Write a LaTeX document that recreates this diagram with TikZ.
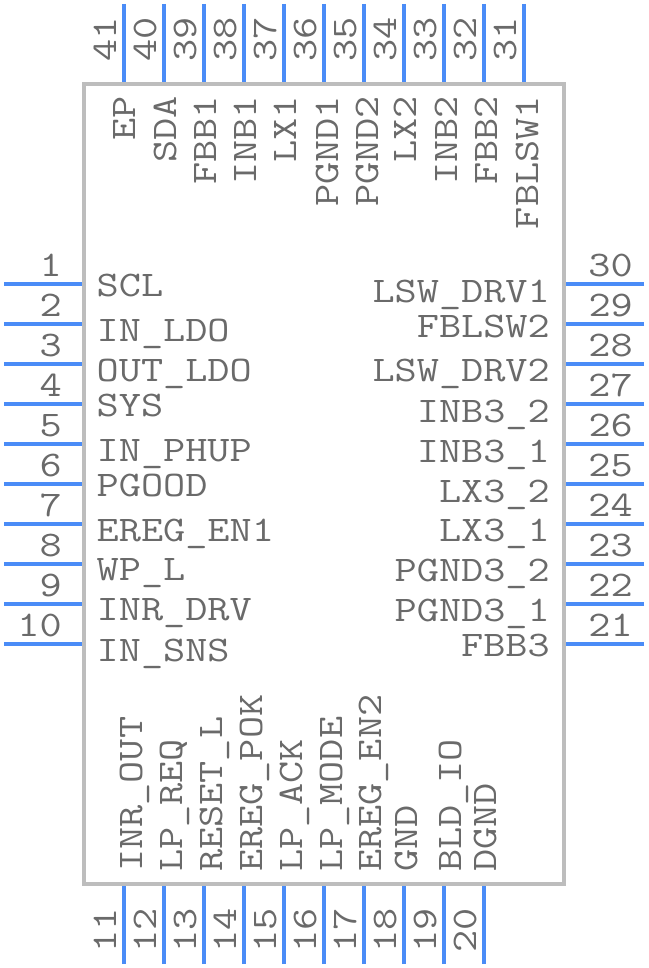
\documentclass[tikz,border=0pt]{standalone}
\usepackage{fontspec}
\setmonofont[FakeStretch=1.195]{Latin Modern Mono}
\definecolor{pinblue}{HTML}{4A8CF7}
\definecolor{bodygray}{HTML}{BDBDBD}
\definecolor{textgray}{HTML}{6A6A6A}
\tikzset{body/.style={draw=bodygray,line width=4.4pt,minimum width=480pt,minimum height=800pt,inner sep=0pt},
         pin/.style={draw=pinblue,line width=4.4pt},
         chiptext/.style={text=textgray,inner sep=0pt,font=\ttfamily\fontsize{36}{36}\selectfont},
         lefttext/.style={chiptext,anchor=base west},
         righttext/.style={chiptext,anchor=base east},
         uptext/.style={chiptext,anchor=base west,rotate=90},
         toptext/.style={chiptext,anchor=base east,rotate=90}
}
\begin{document}
\begin{tikzpicture}[x=1pt,y=-1pt]

\useasboundingbox (0,0) rectangle (648,968);
\node[body] (chip) at (324,484) {};

\coordinate (p1) at (4,284);
\coordinate (p2) at (4,324);
\coordinate (p3) at (4,364);
\coordinate (p4) at (4,404);
\coordinate (p5) at (4,444);
\coordinate (p6) at (4,484);
\coordinate (p7) at (4,524);
\coordinate (p8) at (4,564);
\coordinate (p9) at (4,604);
\coordinate (p10) at (4,644);
\coordinate (p11) at (124,964);
\coordinate (p12) at (164,964);
\coordinate (p13) at (204,964);
\coordinate (p14) at (244,964);
\coordinate (p15) at (284,964);
\coordinate (p16) at (324,964);
\coordinate (p17) at (364,964);
\coordinate (p18) at (404,964);
\coordinate (p19) at (444,964);
\coordinate (p20) at (484,964);
\coordinate (p21) at (644,644);
\coordinate (p22) at (644,604);
\coordinate (p23) at (644,564);
\coordinate (p24) at (644,524);
\coordinate (p25) at (644,484);
\coordinate (p26) at (644,444);
\coordinate (p27) at (644,404);
\coordinate (p28) at (644,364);
\coordinate (p29) at (644,324);
\coordinate (p30) at (644,284);
\coordinate (p31) at (524,4);
\coordinate (p32) at (484,4);
\coordinate (p33) at (444,4);
\coordinate (p34) at (404,4);
\coordinate (p35) at (364,4);
\coordinate (p36) at (324,4);
\coordinate (p37) at (284,4);
\coordinate (p38) at (244,4);
\coordinate (p39) at (204,4);
\coordinate (p40) at (164,4);
\coordinate (p41) at (124,4);

\draw[pin] (p1)--(p1-|chip.west);
\draw[pin] (p2)--(p2-|chip.west);
\draw[pin] (p3)--(p3-|chip.west);
\draw[pin] (p4)--(p4-|chip.west);
\draw[pin] (p5)--(p5-|chip.west);
\draw[pin] (p6)--(p6-|chip.west);
\draw[pin] (p7)--(p7-|chip.west);
\draw[pin] (p8)--(p8-|chip.west);
\draw[pin] (p9)--(p9-|chip.west);
\draw[pin] (p10)--(p10-|chip.west);
\draw[pin] (p11)--(p11|-chip.south);
\draw[pin] (p12)--(p12|-chip.south);
\draw[pin] (p13)--(p13|-chip.south);
\draw[pin] (p14)--(p14|-chip.south);
\draw[pin] (p15)--(p15|-chip.south);
\draw[pin] (p16)--(p16|-chip.south);
\draw[pin] (p17)--(p17|-chip.south);
\draw[pin] (p18)--(p18|-chip.south);
\draw[pin] (p19)--(p19|-chip.south);
\draw[pin] (p20)--(p20|-chip.south);
\draw[pin] (p21)--(p21-|chip.east);
\draw[pin] (p22)--(p22-|chip.east);
\draw[pin] (p23)--(p23-|chip.east);
\draw[pin] (p24)--(p24-|chip.east);
\draw[pin] (p25)--(p25-|chip.east);
\draw[pin] (p26)--(p26-|chip.east);
\draw[pin] (p27)--(p27-|chip.east);
\draw[pin] (p28)--(p28-|chip.east);
\draw[pin] (p29)--(p29-|chip.east);
\draw[pin] (p30)--(p30-|chip.east);
\draw[pin] (p31)--(p31|-chip.north);
\draw[pin] (p32)--(p32|-chip.north);
\draw[pin] (p33)--(p33|-chip.north);
\draw[pin] (p34)--(p34|-chip.north);
\draw[pin] (p35)--(p35|-chip.north);
\draw[pin] (p36)--(p36|-chip.north);
\draw[pin] (p37)--(p37|-chip.north);
\draw[pin] (p38)--(p38|-chip.north);
\draw[pin] (p39)--(p39|-chip.north);
\draw[pin] (p40)--(p40|-chip.north);
\draw[pin] (p41)--(p41|-chip.north);

\node[righttext] (num1) at (62,276) {1};
\node[righttext] (num2) at (62,316) {2};
\node[righttext] (num3) at (62,356) {3};
\node[righttext] (num4) at (62,396) {4};
\node[righttext] (num5) at (62,436) {5};
\node[righttext] (num6) at (62,476) {6};
\node[righttext] (num7) at (62,516) {7};
\node[righttext] (num8) at (62,556) {8};
\node[righttext] (num9) at (62,596) {9};
\node[righttext] (num10) at (62,636) {10};
\node[uptext] (num11) at (116,953) {11};
\node[uptext] (num12) at (156,953) {12};
\node[uptext] (num13) at (196,953) {13};
\node[uptext] (num14) at (236,953) {14};
\node[uptext] (num15) at (276,953) {15};
\node[uptext] (num16) at (316,953) {16};
\node[uptext] (num17) at (356,953) {17};
\node[uptext] (num18) at (396,953) {18};
\node[uptext] (num19) at (436,953) {19};
\node[uptext] (num20) at (476,953) {20};
\node[righttext] (num21) at (633,636) {21};
\node[righttext] (num22) at (633,596) {22};
\node[righttext] (num23) at (633,556) {23};
\node[righttext] (num24) at (633,516) {24};
\node[righttext] (num25) at (633,476) {25};
\node[righttext] (num26) at (633,436) {26};
\node[righttext] (num27) at (633,396) {27};
\node[righttext] (num28) at (633,356) {28};
\node[righttext] (num29) at (633,316) {29};
\node[righttext] (num30) at (633,276) {30};
\node[uptext] (num31) at (516,62) {31};
\node[uptext] (num32) at (476,62) {32};
\node[uptext] (num33) at (436,62) {33};
\node[uptext] (num34) at (396,62) {34};
\node[uptext] (num35) at (356,62) {35};
\node[uptext] (num36) at (316,62) {36};
\node[uptext] (num37) at (276,62) {37};
\node[uptext] (num38) at (236,62) {38};
\node[uptext] (num39) at (196,62) {39};
\node[uptext] (num40) at (156,62) {40};
\node[uptext] (num41) at (116,62) {41};

\node[lefttext] (scl) at (96.5,296) {SCL};
\node[lefttext] (inldo) at (96.5,341) {IN\_LDO};
\node[lefttext] (outldo) at (96.5,381) {OUT\_LDO};
\node[lefttext] (sys) at (96.5,416) {SYS};
\node[lefttext] (inphup) at (96.5,461) {IN\_PHUP};
\node[lefttext] (pgood) at (96.5,496) {PGOOD};
\node[lefttext] (eregen1) at (96.5,541) {EREG\_EN1};
\node[lefttext] (wpl) at (96.5,580) {WP\_L};
\node[lefttext] (inrdrv) at (96.5,620) {INR\_DRV};
\node[lefttext] (insns) at (96.5,661) {IN\_SNS};

\node[uptext] (inrout) at (142,872) {INR\_OUT};
\node[uptext] (lpreq) at (182,872) {LP\_REQ};
\node[uptext] (resetl) at (222,872) {RESET\_L};
\node[uptext] (eregpok) at (262,872) {EREG\_POK};
\node[uptext] (lpack) at (302,872) {LP\_ACK};
\node[uptext] (lpmode) at (342,872) {LP\_MODE};
\node[uptext] (eregen2) at (381,872) {EREG\_EN2};
\node[uptext] (gnd) at (417,872) {GND};
\node[uptext] (bldio) at (461,872) {BLD\_IO};
\node[uptext] (dgnd) at (496,872) {DGND};

\node[righttext] (fbb3) at (550,656) {FBB3};
\node[righttext] (pgnd31) at (550,621) {PGND3\_1};
\node[righttext] (pgnd32) at (550,581) {PGND3\_2};
\node[righttext] (lx31) at (550,541) {LX3\_1};
\node[righttext] (lx32) at (550,502) {LX3\_2};
\node[righttext] (inb31) at (550,462) {INB3\_1};
\node[righttext] (inb32) at (550,422) {INB3\_2};
\node[righttext] (lswdrv2) at (550,381) {LSW\_DRV2};
\node[righttext] (fblsw2) at (550,337) {FBLSW2};
\node[righttext] (lswdrv1) at (550,302) {LSW\_DRV1};

\node[toptext] (ep) at (135,96) {EP};
\node[toptext] (sda) at (176,96) {SDA};
\node[toptext] (fbb1) at (216,96) {FBB1};
\node[toptext] (inb1) at (256,96) {INB1};
\node[toptext] (lx1) at (296,96) {LX1};
\node[toptext] (pgnd1) at (338,96) {PGND1};
\node[toptext] (pgnd2) at (378,96) {PGND2};
\node[toptext] (lx2) at (416,96) {LX2};
\node[toptext] (inb2) at (457,96) {INB2};
\node[toptext] (fbb2) at (497,96) {FBB2};
\node[toptext] (fblsw1) at (538,96) {FBLSW1};

\end{tikzpicture}
\end{document}
